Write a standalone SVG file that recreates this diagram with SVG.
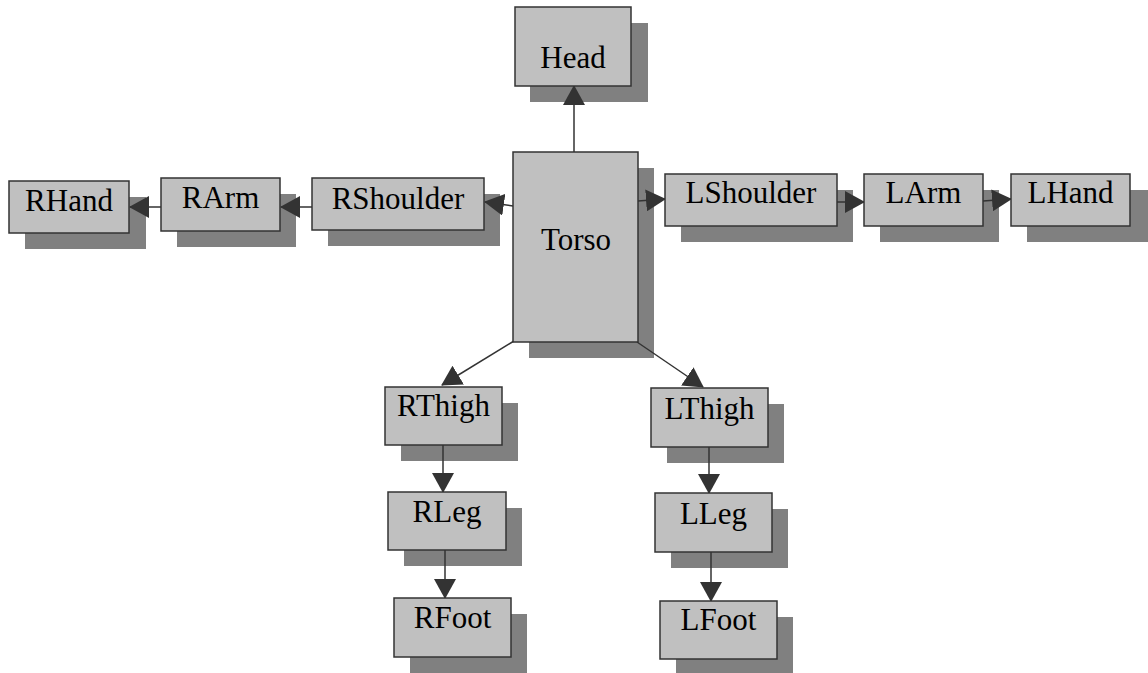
<svg xmlns="http://www.w3.org/2000/svg" width="1148" height="673" viewBox="0 0 1148 673">
<style>
.sh{fill:#808080}
.bx{fill:#c0c0c0;stroke:#333;stroke-width:1.5}
.t{font-family:"Liberation Serif","Times New Roman",serif;font-size:31px;fill:#000;text-anchor:middle}
.c{stroke:#333;stroke-width:1.5;fill:none;marker-end:url(#ah)}
</style>
<defs>
<marker id="ah" markerUnits="userSpaceOnUse" markerWidth="20" markerHeight="22" refX="19" refY="11" orient="auto" viewBox="0 0 20 22">
<path d="M0,0 L20,11 L0,22 Z" fill="#333"/>
</marker>
</defs>
<g id="shadows">
<rect class="sh" x="530" y="23" width="118" height="79"/>
<rect class="sh" x="529" y="168" width="125" height="190"/>
<rect class="sh" x="328" y="194" width="172" height="52"/>
<rect class="sh" x="177" y="194" width="119" height="53"/>
<rect class="sh" x="25" y="197" width="121" height="52"/>
<rect class="sh" x="681" y="190" width="172" height="52"/>
<rect class="sh" x="880" y="190" width="119" height="52"/>
<rect class="sh" x="1027" y="190" width="121" height="52"/>
<rect class="sh" x="401" y="403" width="117" height="58"/>
<rect class="sh" x="404" y="508" width="118" height="58"/>
<rect class="sh" x="410" y="614" width="117" height="59"/>
<rect class="sh" x="667" y="404" width="117" height="59"/>
<rect class="sh" x="671" y="509" width="117" height="59"/>
<rect class="sh" x="676" y="617" width="117" height="58"/>
</g>
<g id="connectors">
<line class="c" x1="574" y1="152" x2="574" y2="86"/>
<line class="c" x1="513" y1="206" x2="485" y2="202"/>
<line class="c" x1="312" y1="207" x2="281" y2="207"/>
<line class="c" x1="161" y1="207" x2="130" y2="207"/>
<line class="c" x1="638" y1="201" x2="665" y2="199"/>
<line class="c" x1="837" y1="202" x2="864" y2="202"/>
<line class="c" x1="983" y1="201" x2="1011" y2="199"/>
<line class="c" x1="514" y1="341" x2="442" y2="385"/>
<line class="c" x1="637" y1="342" x2="703" y2="387"/>
<line class="c" x1="443" y1="445" x2="443" y2="492"/>
<line class="c" x1="445" y1="550" x2="445" y2="598"/>
<line class="c" x1="709" y1="447" x2="709" y2="493"/>
<line class="c" x1="711" y1="552" x2="711" y2="601"/>
</g>
<g id="Head"><rect class="bx" x="515" y="7" width="116" height="79"/><text class="t" x="573" y="68">Head</text></g>
<g id="Torso"><rect class="bx" x="513" y="152" width="125" height="190"/><text class="t" x="576" y="250">Torso</text></g>
<g id="RShoulder"><rect class="bx" x="312" y="178" width="172" height="52"/><text class="t" x="398" y="209">RShoulder</text></g>
<g id="RArm"><rect class="bx" x="161" y="178" width="119" height="53"/><text class="t" x="220.5" y="208">RArm</text></g>
<g id="RHand"><rect class="bx" x="9" y="181" width="120" height="52"/><text class="t" x="69" y="211">RHand</text></g>
<g id="LShoulder"><rect class="bx" x="665" y="174" width="172" height="52"/><text class="t" x="751" y="203">LShoulder</text></g>
<g id="LArm"><rect class="bx" x="864" y="174" width="119" height="52"/><text class="t" x="923.5" y="203">LArm</text></g>
<g id="LHand"><rect class="bx" x="1011" y="174" width="119" height="52"/><text class="t" x="1070.5" y="203">LHand</text></g>
<g id="RThigh"><rect class="bx" x="385" y="387" width="117" height="58"/><text class="t" x="443.5" y="416">RThigh</text></g>
<g id="RLeg"><rect class="bx" x="388" y="492" width="118" height="58"/><text class="t" x="447" y="522">RLeg</text></g>
<g id="RFoot"><rect class="bx" x="394" y="598" width="117" height="59"/><text class="t" x="452.5" y="628">RFoot</text></g>
<g id="LThigh"><rect class="bx" x="651" y="388" width="117" height="59"/><text class="t" x="709.5" y="419">LThigh</text></g>
<g id="LLeg"><rect class="bx" x="655" y="493" width="117" height="59"/><text class="t" x="713.5" y="524">LLeg</text></g>
<g id="LFoot"><rect class="bx" x="660" y="601" width="117" height="58"/><text class="t" x="718.5" y="630">LFoot</text></g>
</svg>
